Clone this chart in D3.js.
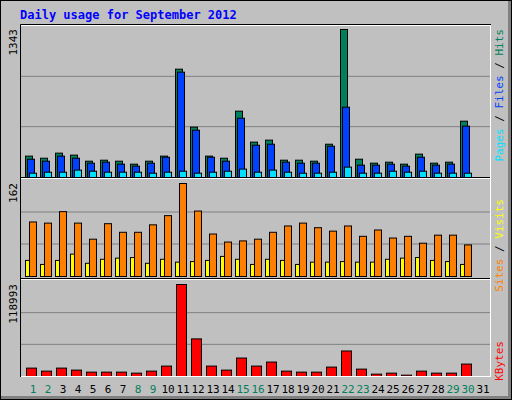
<!DOCTYPE html>
<html><head><meta charset="utf-8">
<script src="https://cdn.jsdelivr.net/npm/d3@7"></script>
<style>body{margin:0;background:#fff}</style>
</head><body>
<svg id="ch" width="512" height="400"></svg>
<script>
const days = d3.range(1, 32);
const weekend = [1, 2, 8, 9, 15, 16, 22, 23, 29, 30];
const hits = [194,175,221,203,148,157,148,121,148,194,983,457,194,175,602,321,339,157,157,148,302,1343,166,130,139,121,212,130,139,511,0];
const files = [166,148,194,175,130,139,121,103,130,184,956,429,184,148,538,293,302,139,130,130,284,638,112,112,121,103,184,112,121,466,0];
const pages = [39,48,48,67,57,48,48,48,39,48,57,39,48,57,76,48,67,48,39,39,48,94,39,39,57,48,57,39,39,39,0];
const visits = [95,93,113,93,65,92,77,77,90,106,162,114,74,60,62,65,77,88,93,85,79,88,70,81,67,70,58,72,72,55,0];
const sites = [28,21,28,39,23,30,32,33,23,30,25,26,28,35,30,21,30,28,21,25,25,26,25,25,30,32,33,28,26,21,0];
const kbytes = [10857,6949,10857,8252,5646,5646,5646,4343,6949,13463,118993,48640,13463,8252,23887,13463,18675,6949,5646,5646,12160,33007,9555,3040,4343,1737,6949,4343,4343,16069,0];
const maxLabels = ['1343', '162', '118993'];

const sv = d3.select('#ch');
const mono = "'DejaVu Sans Mono', monospace";

// background + bevel
sv.append('rect').attr('width', 512).attr('height', 400).attr('fill', '#c0c0c0');
sv.append('path').attr('d', 'M510,1 V398 H1').attr('stroke', '#808080').attr('stroke-width', 4).attr('fill', 'none');
sv.append('rect').attr('x', 0.5).attr('y', 0.5).attr('width', 511).attr('height', 399)
    .attr('fill', 'none').attr('stroke', '#000');

sv.append('text').attr('x', 20).attr('y', 19).style('font-family', mono).style('font-weight', 'bold')
    .style('font-size', '12px').attr('fill', '#0000ff').text('Daily usage for September 2012');

const x = d3.scaleBand().domain(days).range([25, 490]).paddingInner(0).paddingOuter(0);

const pn = [
    { top: 26, bot: 177, max: 1343 },
    { top: 180, bot: 276, max: 162 },
    { top: 281, bot: 376, max: 118993 }
];

pn.forEach((p, i) => {
    const h = p.bot - p.top;
    [1, 2].forEach(k => {
        const gy = p.bot - h * k / 3;
        sv.append('line').attr('x1', 21).attr('x2', 490).attr('y1', gy).attr('y2', gy)
            .attr('stroke', '#808080').attr('stroke-width', 1);
    });
    sv.append('text').attr('transform', `translate(17,${p.top + 3}) rotate(-90)`)
        .attr('text-anchor', 'end').style('font-family', mono).style('font-size', '11px')
        .attr('fill', '#000').text(maxLabels[i]);
    p.y = d3.scaleLinear().domain([0, p.max]).range([p.bot, p.top + 3]);
});

function bars(p, data, off, w, col) {
    sv.append('g').selectAll('rect').data(days.filter(d => data[d - 1] > 0)).enter().append('rect')
        .attr('x', d => x(d) + off + 0.5)
        .attr('y', d => p.y(data[d - 1]) + 0.5)
        .attr('width', w)
        .attr('height', d => Math.max(0, p.bot - p.y(data[d - 1])))
        .attr('fill', col).attr('stroke', '#000').attr('stroke-width', 1);
}

bars(pn[0], hits, 0, 7, '#00805c');
bars(pn[0], files, 2, 7, '#0040ff');
bars(pn[0], pages, 4, 7, '#00e0ff');
bars(pn[1], sites, 0, 4, '#ffff00');
bars(pn[1], visits, 4, 7, '#ff8000');
bars(pn[2], kbytes, 1, 10, '#ff0000');

// frame lines
const fr = sv.append('g');
fr.append('path').attr('d', 'M20.5,377 V24.5 H491').attr('stroke', '#000').attr('fill', 'none');
fr.append('path').attr('d', 'M21,25.5 H490.5 V377').attr('stroke', '#fff').attr('fill', 'none');
fr.append('path').attr('d', 'M21,376.5 H491').attr('stroke', '#fff').attr('fill', 'none');
[178.5, 279.5].forEach(yy => {
    fr.append('line').attr('x1', 21).attr('x2', 490).attr('y1', yy - 1).attr('y2', yy - 1).attr('stroke', '#000');
    fr.append('line').attr('x1', 21).attr('x2', 490).attr('y1', yy).attr('y2', yy).attr('stroke', '#fff');
});

// day labels
sv.append('g').selectAll('text').data(days).enter().append('text')
    .attr('x', d => x(d) + 8).attr('y', 393).attr('text-anchor', 'middle')
    .style('font-family', mono).style('font-size', '11px')
    .attr('fill', d => weekend.includes(d) ? '#00805c' : '#000').text(d => d);

// right legends
function legend(yTop, parts) {
    const t = sv.append('text').attr('transform', `translate(503,${yTop}) rotate(-90)`)
        .attr('text-anchor', 'end').style('font-family', mono).style('font-size', '11px');
    parts.forEach(([s, c]) => t.append('tspan').attr('fill', c).text(s));
}
legend(29, [['Pages', '#00e0ff'], [' / ', '#000'], ['Files', '#0040ff'], [' / ', '#000'], ['Hits', '#00805c']]);
legend(199, [['Sites', '#ff8000'], [' / ', '#000'], ['Visits', '#ffff00']]);
legend(341, [['KBytes', '#ff0000']]);
</script>
</body></html>
